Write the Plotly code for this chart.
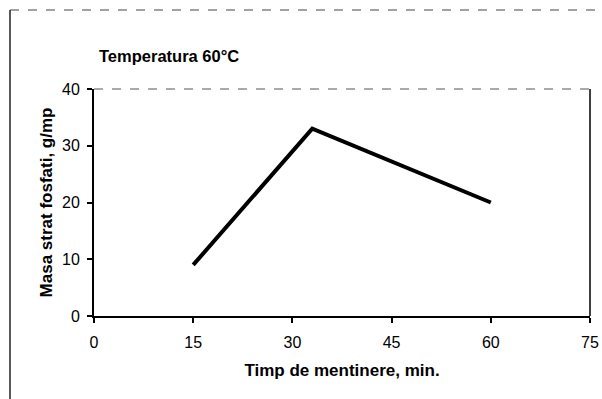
import plotly.graph_objects as go

# Holding time (min) and phosphate layer mass (g/m²)
timp_min = [15, 33, 60]
masa_strat = [9, 33, 20]

x_ticks = [0, 15, 30, 45, 60, 75]
y_ticks = [0, 10, 20, 30, 40]

FONT = "Arial, 'Liberation Sans', sans-serif"

fig = go.Figure()
fig.add_trace(go.Scatter(
    x=timp_min, y=masa_strat, mode="lines",
    line=dict(color="black", width=4),
    showlegend=False, hoverinfo="skip",
))

fig.update_layout(
    width=602, height=399, autosize=False,
    margin=dict(l=94, r=12, t=89, b=83, autoexpand=False),
    paper_bgcolor="white", plot_bgcolor="white",
    font=dict(family=FONT, size=16, color="black"),
    xaxis=dict(
        range=[0, 75], tickvals=x_ticks, ticktext=[str(v) for v in x_ticks],
        showgrid=False, zeroline=False, automargin=False,
        showline=True, linecolor="black", linewidth=2,
        ticks="outside", ticklen=5, tickwidth=1.5, tickcolor="black",
        ticklabelstandoff=6,
        title=dict(text="<b>Timp de mentinere, min.</b>",
                   font=dict(size=17), standoff=14),
    ),
    yaxis=dict(
        range=[0, 40], tickvals=y_ticks, ticktext=[str(v) for v in y_ticks],
        showgrid=False, zeroline=False, automargin=False,
        showline=True, linecolor="black", linewidth=2,
        ticks="outside", ticklen=5, tickwidth=1.5, tickcolor="black",
        ticklabelstandoff=4,
        title=dict(text="<b>Masa strat fosfati, g/mp</b>",
                   font=dict(size=17), standoff=5),
    ),
    annotations=[dict(
        text="<b>Temperatura 60°C</b>", xref="paper", yref="paper",
        x=(97 - 94) / 496, y=1 + (89 - 56) / 227,
        xanchor="left", yanchor="middle", showarrow=False,
        font=dict(size=16.5),
    )],
    shapes=[
        # plot-area frame: dashed top, thin right side
        dict(type="line", xref="paper", yref="paper", x0=0, x1=1, y0=1, y1=1,
             line=dict(color="#555555", width=1, dash="dash")),
        dict(type="line", xref="paper", yref="paper", x0=1, x1=1, y0=0, y1=1,
             line=dict(color="black", width=1.5)),
        # chart-area border
        dict(type="line", xref="paper", yref="paper",
             x0=(10 - 94) / 496, x1=(600 - 94) / 496,
             y0=1 + (89 - 10) / 227, y1=1 + (89 - 10) / 227,
             line=dict(color="#444444", width=1, dash="dash")),
        dict(type="line", xref="paper", yref="paper",
             x0=(10 - 94) / 496, x1=(10 - 94) / 496,
             y0=1 + (89 - 10) / 227, y1=-(399 - 316) / 227,
             line=dict(color="#222222", width=1.5)),
    ],
)

fig.write_html("out.html")
